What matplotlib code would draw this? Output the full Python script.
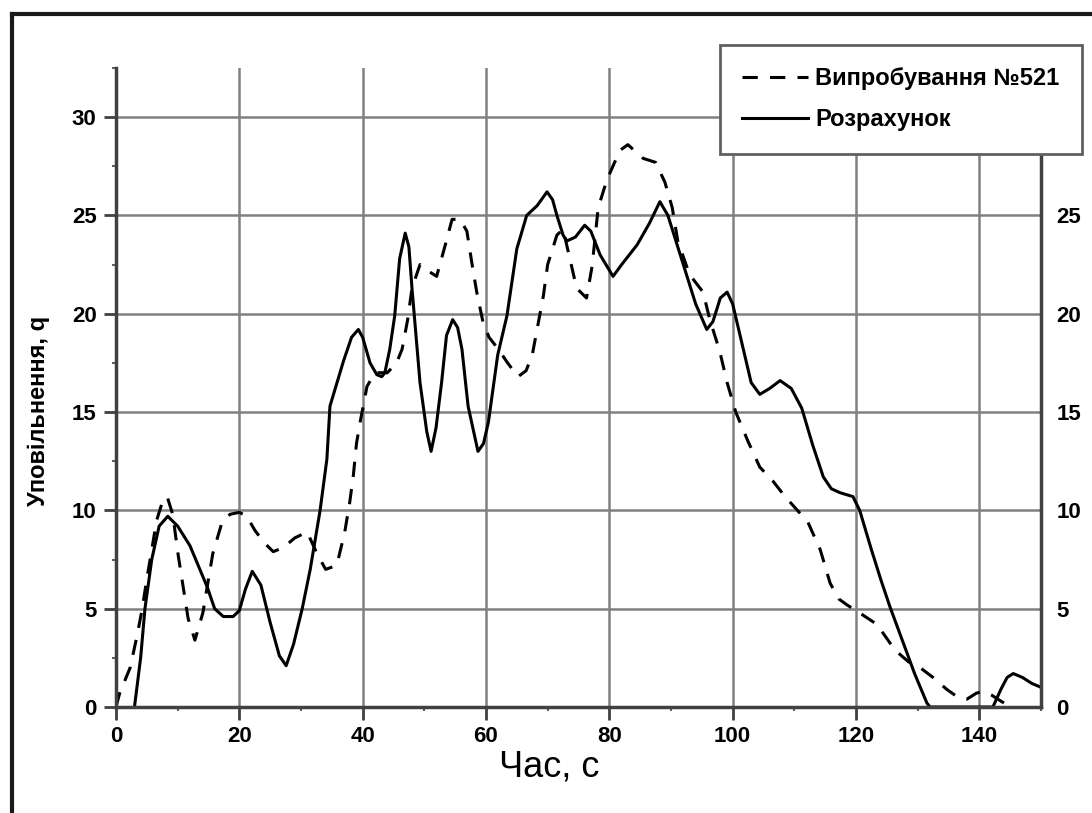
import matplotlib.pyplot as plt
from matplotlib.lines import Line2D
from matplotlib.ticker import MultipleLocator

# Розрахунок (solid)
calc_t = [3.0, 4.0, 4.7, 5.8, 7.0, 8.4, 10.0, 12.0, 14.8, 16.0, 17.4, 19.0, 20.0, 21.0,
          22.1, 23.5, 25.0, 26.5, 27.6, 28.8, 30.2, 31.5, 33.1, 34.2, 34.7, 36.9, 38.2,
          39.3, 40.0, 41.2, 42.3, 43.1, 43.6, 44.4, 45.2, 46.0, 46.9, 47.5, 48.0, 49.3,
          50.4, 51.1, 51.9, 52.8, 53.6, 54.6, 55.4, 56.1, 57.1, 58.7, 59.6, 60.4, 61.9,
          63.4, 65.0, 66.6, 68.3, 69.9, 70.8, 71.5, 72.5, 73.1, 74.5, 76.0, 77.0, 78.5,
          80.6, 82.0, 84.5, 86.5, 88.2, 89.5, 91.0, 92.5, 94.0, 95.8, 96.8, 98.0, 99.1,
          100.0, 101.5, 103.0, 104.4, 106.0, 107.7, 109.5, 111.2, 113.0, 114.7, 116.0,
          117.4, 119.5, 120.6, 122.5, 124.0, 125.5, 127.5, 129.5, 131.5, 132.0, 142.2,
          143.5, 144.5, 145.5, 147.0, 148.5, 150.0]
calc_q = [0.0, 2.5, 5.0, 7.5, 9.2, 9.7, 9.2, 8.2, 6.1, 5.0, 4.6, 4.6, 4.9, 6.0,
          6.9, 6.2, 4.3, 2.6, 2.1, 3.2, 5.0, 7.0, 10.0, 12.6, 15.3, 17.6, 18.8,
          19.2, 18.8, 17.5, 16.9, 16.8, 17.0, 18.2, 19.9, 22.8, 24.1, 23.4, 21.3, 16.5,
          14.0, 13.0, 14.2, 16.5, 18.9, 19.7, 19.3, 18.2, 15.3, 13.0, 13.4, 14.5, 17.9,
          19.9, 23.3, 25.0, 25.5, 26.2, 25.8, 25.0, 24.0, 23.7, 23.9, 24.5, 24.2, 23.0,
          21.9, 22.5, 23.5, 24.6, 25.7, 25.0, 23.5, 22.0, 20.5, 19.2, 19.6, 20.8, 21.1,
          20.5, 18.5, 16.5, 15.9, 16.2, 16.6, 16.2, 15.2, 13.3, 11.7, 11.1,
          10.9, 10.7, 10.0, 8.0, 6.5, 5.1, 3.4, 1.7, 0.2, 0.0, 0.0,
          0.9, 1.5, 1.7, 1.5, 1.2, 1.0]

# Випробування №521 (dashed)
test_t = [0.0, 0.6, 2.3, 3.4, 4.2, 5.0, 5.8, 6.6, 7.5, 8.3, 9.2, 10.1, 10.9, 11.7, 12.8,
          14.1, 15.0, 15.7, 17.2, 18.5, 20.0, 21.2, 22.5, 23.9, 25.5, 27.1, 29.0, 31.0,
          32.6, 34.0, 35.8, 37.1, 37.9, 38.5, 39.0, 39.6, 40.7, 42.0, 44.0, 45.5, 46.4,
          47.3, 48.0, 49.3, 50.5, 52.0, 53.4, 54.5, 55.8, 56.9, 57.7, 58.5, 59.5, 60.5,
          62.0, 63.5, 65.2, 66.5, 67.5, 68.4, 69.3, 70.0, 71.5, 72.5, 73.6, 74.7, 76.3,
          77.2, 78.2, 79.6, 81.7, 83.0, 85.5, 87.5, 89.0, 90.2, 91.1, 93.0, 95.2, 96.3,
          97.9, 99.1, 100.5, 102.5, 104.4, 106.5, 108.5, 110.5, 112.2, 114.2, 115.8,
          117.2, 118.5, 121.0, 123.4, 126.3, 128.5, 130.4, 132.5, 134.7, 136.5, 138.0,
          139.5, 140.6, 142.0, 144.5, 145.0]
test_q = [0.0, 0.7, 2.0, 3.6, 4.9, 6.5, 8.0, 9.5, 10.4, 10.7, 9.8, 7.7, 6.1, 4.5, 3.4,
          4.8, 6.5, 7.8, 9.4, 9.8, 9.9, 9.7, 9.0, 8.4, 7.9, 8.1, 8.6, 8.9,
          7.8, 7.0, 7.2, 8.9, 10.4, 11.8, 13.4, 14.5, 16.3, 17.0, 17.0, 17.5, 18.2,
          19.7, 21.3, 22.5, 22.2, 21.9, 23.5, 24.8, 24.8, 24.2, 22.6, 21.1, 19.6, 18.8,
          18.2, 17.5, 16.8, 17.1, 17.9, 19.4, 20.9, 22.5, 24.0, 24.3, 22.8, 21.3, 20.8,
          22.4, 25.4, 26.8, 28.3, 28.6, 27.9, 27.7, 26.7, 25.4, 23.7, 22.0, 21.1, 19.7,
          18.1, 16.5, 15.0, 13.5, 12.2, 11.5, 10.7, 10.0, 9.4, 8.0, 6.3,
          5.5, 5.2, 4.7, 4.2, 2.9, 2.3, 2.0, 1.5, 0.9, 0.5, 0.4,
          0.7, 0.8, 0.6, 0.1, 0.0]

x_ticks = [0, 20, 40, 60, 80, 100, 120, 140]
y_ticks = [0, 5, 10, 15, 20, 25, 30]

plt.rcParams['font.family'] = ['Liberation Sans', 'DejaVu Sans']

fig = plt.figure(figsize=(10.92, 8.13), dpi=100)
ax = fig.add_axes([0.1062, 0.1304, 0.8471, 0.786])

spine_col = '#404040'
ax.plot(test_t, test_q, color='black', linewidth=2.2, dashes=(5, 4), label='Випробування №521')
ax.plot(calc_t, calc_q, color='black', linewidth=2.2, label='Розрахунок')

ax.set_xlim(0, 150)
ax.set_ylim(0, 32.5)
ax.set_xticks(x_ticks)
ax.set_yticks(y_ticks)
ax.xaxis.set_minor_locator(MultipleLocator(10))
ax.yaxis.set_minor_locator(MultipleLocator(2.5))
ax.set_axisbelow(True)
ax.grid(which='major', color='#808080', linewidth=1.8)

ax.spines['top'].set_visible(False)
for s in ['left', 'bottom', 'right']:
    ax.spines[s].set_color(spine_col)
    ax.spines[s].set_linewidth(2.5)

ax.tick_params(which='major', direction='out', length=9, width=2, color=spine_col,
               labelsize=16, pad=5)
ax.tick_params(which='minor', direction='out', length=3, width=1.5, color='#606060')
for lab in ax.get_xticklabels() + ax.get_yticklabels():
    lab.set_fontweight('bold')

ax2 = ax.twinx()
ax2.set_ylim(0, 32.5)
ax2.set_yticks(y_ticks)
ax2.tick_params(axis='y', length=0, labelsize=16, pad=11)
for lab in ax2.get_yticklabels():
    lab.set_fontweight('bold')
for s in ax2.spines.values():
    s.set_visible(False)

ax.set_ylabel('Уповільнення, q', fontsize=17, fontweight='bold')
ax.yaxis.set_label_coords(-0.071, 0.463)
ax.set_xlabel('Час, с', fontsize=26)
ax.xaxis.set_label_coords(0.468, -0.066)

leg = fig.legend(loc='upper right', bbox_to_anchor=(1082 / 1092, 1 - 45 / 813),
                 borderaxespad=0, frameon=True, fancybox=False, framealpha=1,
                 edgecolor='#606060', prop={'size': 17, 'weight': 'bold'},
                 handlelength=2.8, handletextpad=0.3, labelspacing=0.75, borderpad=0.95)
leg.get_frame().set_linewidth(2)

# outer frame of the picture
fig.add_artist(Line2D([12 / 1092, 12 / 1092], [0, 1 - 14 / 813], transform=fig.transFigure,
                      color='#1a1a1a', linewidth=3))
fig.add_artist(Line2D([12 / 1092, 1], [1 - 14 / 813, 1 - 14 / 813], transform=fig.transFigure,
                      color='#1a1a1a', linewidth=3))

fig.savefig('out.png', dpi=100)
